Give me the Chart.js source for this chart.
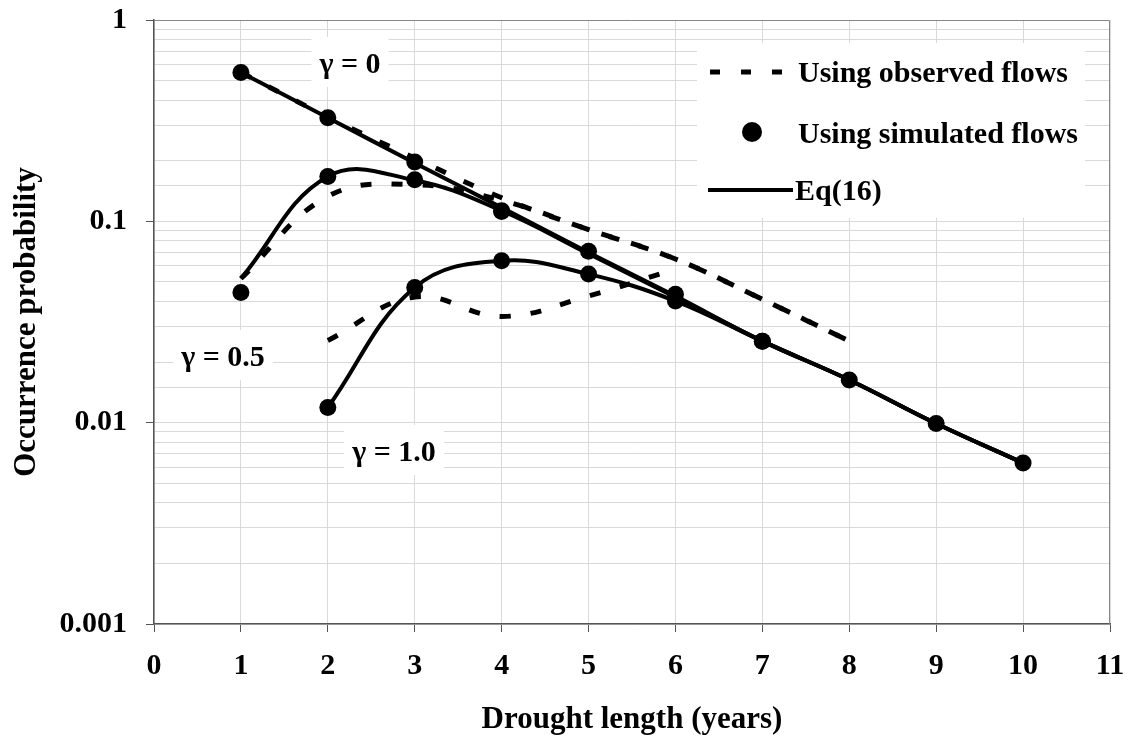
<!DOCTYPE html>
<html>
<head>
<meta charset="utf-8">
<script src="https://cdn.jsdelivr.net/npm/chart.js@4.4.0/dist/chart.umd.min.js"></script>
<style>
  body { margin: 0; background: #fff; }
</style>
</head>
<body>
<canvas id="grafico" width="1129" height="740"></canvas>
<script>
// drought length (years)
let anos = [1, 2, 3, 4, 5, 6, 7, 8, 9, 10];

// Eq(16)
let eqG0  = [0.549, 0.327, 0.195, 0.117, 0.070, 0.0425, 0.0254, 0.0163, 0.0099, 0.0063];
let eqG05 = [0.052, 0.167, 0.160, 0.113, 0.069, 0.042, 0.0254, 0.0163, 0.0099, 0.0063];
let eqG1  = [null, 0.0119, 0.0469, 0.0637, 0.0547, 0.0402, 0.0254, 0.0163, 0.0099, 0.0063];

// using simulated flows
let simG0  = [0.549, 0.327, 0.197, 0.112, 0.071, 0.0434, 0.0254, 0.0163, 0.0099, 0.0063];
let simG05 = [0.0443, 0.167, 0.161, 0.113];
let simG1  = [null, 0.0119, 0.0469, 0.0637, 0.0547, 0.0402, 0.0254];

// using observed flows
let obsG0  = [0.549, 0.33, 0.206, 0.131, 0.091, 0.065, 0.041, 0.0254];
let obsG05 = [0.052, 0.133, 0.152, 0.127, 0.091, 0.065, 0.041, 0.0254];
let obsG1  = [null, 0.0256, 0.0421, 0.0337, 0.0426, 0.058];

let eixoX = [0, 11];
let eixoY = [0.001, 1];

let rotulosGama = [
    { texto: 'γ = 0',   x: 2.255, y: 0.5455 },
    { texto: 'γ = 0.5', x: 0.794, y: 0.0191 },
    { texto: 'γ = 1.0', x: 2.762, y: 0.00645 }
];
let legenda = ['Using observed flows', 'Using simulated flows', 'Eq(16)'];

const fonte = "'Liberation Serif', 'Times New Roman', serif";

function serie(valores) {
    return valores.map((v, i) => ({ x: anos[i], y: v })).filter(p => p.y !== null);
}

const marcador = { showLine: false, pointRadius: 8.5, pointHoverRadius: 8.5, pointBackgroundColor: '#000', pointBorderColor: '#000', pointBorderWidth: 0 };
const solida = { borderColor: '#000', borderWidth: 4, pointRadius: 0, tension: 0.4, fill: false };
const tracejada = { ...solida, borderWidth: 5, borderDash: [11, 20] };

// white boxes behind the gamma labels, drawn over the grid but under the curves
const caixas = {
    id: 'caixas',
    beforeDatasetsDraw(chart) {
        const ctx = chart.ctx;
        ctx.save();
        ctx.font = 'bold 30px ' + fonte;
        rotulosGama.forEach(r => {
            let px = chart.scales.x.getPixelForValue(r.x);
            let py = chart.scales.y.getPixelForValue(r.y);
            let w = ctx.measureText(r.texto).width;
            ctx.fillStyle = '#fff';
            ctx.fillRect(px - w / 2 - 8, py - 36, w + 16, 50);
            ctx.fillStyle = '#000';
            ctx.textAlign = 'center';
            ctx.textBaseline = 'alphabetic';
            ctx.fillText(r.texto, px, py);
        });
        ctx.restore();
    },
    afterDraw(chart) {
        const ctx = chart.ctx;
        const a = chart.chartArea;
        ctx.save();
        // frame on top and right
        ctx.strokeStyle = '#888';
        ctx.lineWidth = 1;
        ctx.beginPath();
        ctx.moveTo(a.left, a.top + 0.5);
        ctx.lineTo(a.right - 0.5, a.top + 0.5);
        ctx.lineTo(a.right - 0.5, a.bottom);
        ctx.stroke();

        // legend
        let bx = a.right - 413, by = a.top + 23;
        ctx.fillStyle = '#fff';
        ctx.fillRect(bx, by, 388, 175);

        ctx.strokeStyle = '#000';
        ctx.lineWidth = 5;
        ctx.setLineDash([10, 21]);
        ctx.beginPath();
        ctx.moveTo(bx + 13, by + 29);
        ctx.lineTo(bx + 85, by + 29);
        ctx.stroke();
        ctx.setLineDash([]);

        ctx.fillStyle = '#000';
        ctx.beginPath();
        ctx.arc(bx + 55, by + 89, 10, 0, Math.PI * 2);
        ctx.fill();

        ctx.lineWidth = 4;
        ctx.beginPath();
        ctx.moveTo(bx + 11, by + 147);
        ctx.lineTo(bx + 96, by + 147);
        ctx.stroke();

        ctx.font = 'bold 30px ' + fonte;
        ctx.textAlign = 'left';
        ctx.textBaseline = 'alphabetic';
        ctx.fillText(legenda[0], bx + 101, by + 39);
        ctx.fillText(legenda[1], bx + 101, by + 100);
        ctx.fillText(legenda[2], bx + 98, by + 157);
        ctx.restore();
    }
};

new Chart(document.getElementById('grafico'), {
    type: 'line',
    data: {
        datasets: [
            { ...marcador, data: serie(simG0) },
            { ...marcador, data: serie(simG05) },
            { ...marcador, data: serie(simG1) },
            { ...solida, data: serie(eqG0) },
            { ...solida, data: serie(eqG05) },
            { ...solida, data: serie(eqG1) },
            { ...tracejada, data: serie(obsG0) },
            { ...tracejada, data: serie(obsG05) },
            { ...tracejada, data: serie(obsG1) }
        ]
    },
    options: {
        responsive: false,
        animation: false,
        layout: { padding: { top: 20, right: 19, left: 0, bottom: 0 } },
        plugins: {
            legend: { display: false },
            tooltip: { enabled: false }
        },
        scales: {
            x: {
                type: 'linear',
                min: eixoX[0],
                max: eixoX[1],
                ticks: { stepSize: 1, padding: 16, color: '#000', font: { family: fonte, size: 30, weight: 'bold' } },
                grid: { color: '#d9d9d9', lineWidth: 1, tickLength: 8, tickColor: '#555' },
                border: { color: '#555', width: 1.5 },
                title: { display: true, text: 'Drought length (years)', color: '#000', padding: { top: 0, bottom: 1 }, font: { family: fonte, size: 31, weight: 'bold' } },
                afterFit: s => { s.height = 116; s.paddingLeft = 0; s.paddingRight = 0; }
            },
            y: {
                type: 'logarithmic',
                min: eixoY[0],
                max: eixoY[1],
                ticks: {
                    autoSkip: false,
                    padding: 19,
                    color: '#000',
                    font: { family: fonte, size: 30, weight: 'bold' },
                    callback: function (v) {
                        let e = Math.log10(v);
                        return Math.abs(e - Math.round(e)) < 1e-6 ? String(Number(v.toPrecision(1))) : '';
                    }
                },
                grid: {
                    color: '#d9d9d9',
                    lineWidth: 1,
                    tickLength: 8,
                    tickColor: c => {
                        let e = Math.log10(c.tick.value);
                        return Math.abs(e - Math.round(e)) < 1e-6 ? '#555' : 'rgba(0,0,0,0)';
                    }
                },
                border: { color: '#555', width: 1.5 },
                title: { display: true, text: 'Occurrence probability', color: '#000', padding: { top: 8, bottom: 0 }, font: { family: fonte, size: 31, weight: 'bold' } },
                afterFit: s => { s.width = 154; s.paddingTop = 0; s.paddingBottom = 0; }
            }
        }
    },
    plugins: [caixas]
});
</script>
</body>
</html>
